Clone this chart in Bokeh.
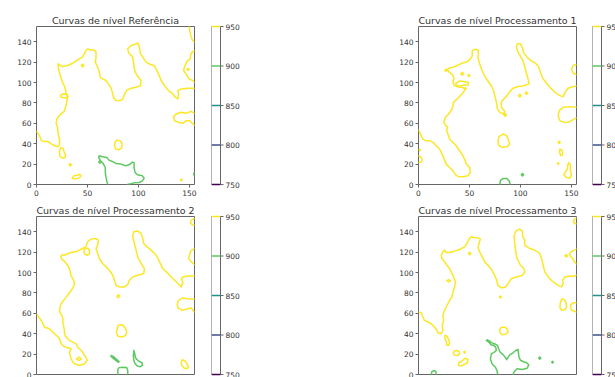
from bokeh.plotting import figure
from bokeh.layouts import row, column
from bokeh.models import Range1d, FixedTicker, ColumnDataSource
from bokeh.core.properties import value
from bokeh.embed import file_html
from bokeh.resources import INLINE

# ---------------- data ----------------
LEVELS = [750, 800, 850, 900, 950]
LEVEL_LABELS = ["750", "800", "850", "900", "950"]
LEVEL_COLORS = ["#440154", "#3b528b", "#21918c", "#5ec962", "#fde725"]
X_TICKS = [0, 50, 100, 150]
Y_TICKS = [0, 20, 40, 60, 80, 100, 120, 140]
X_MAX = 155
Y_MAX = 155
TITLES = ["Curvas de nível Referência", "Curvas de nível Processamento 1",
          "Curvas de nível Processamento 2", "Curvas de nível Processamento 3"]

# --- Referência: contour 950 (open paths / closed loops) and 900
REF_950_PATHS = [
    [(0,52.1),(2.6,48.5),(4.9,43),(7.5,42.3),(10.8,42.3),(13.4,40.7),(15.7,39),(18,38),(20.7,37),(22.6,39),
     (22.6,44.6),(21.3,49.5),(20.7,56),(19.3,60),(20,64.3),(22.3,67.5),(24.6,69.8),(27.2,71.8),(28.9,77.4),
     (29.8,82.3),(30.5,85.6),(28.9,90.5),(27.9,95.4),(25.6,100.3),(23.9,105.2),(22.3,110.2),(21.3,115),
     (21.3,118.4),(23,117),(25.6,115.7),(30.5,116.7),(35.4,119),(38.7,121),(42,123.3),(45.2,125),(46.9,128.2),
     (48.5,131.5),(50.2,133),(53.4,132),(56.7,132),(58.4,129.8),(58.4,125),(57.7,120),(60,115),(61.6,110.2),
     (62.6,105.2),(64.9,103.6),(68.2,102),(70.5,98.7),(73.1,94.8),(74.8,88.9),(75.7,84.9),(78,82.3),(82.3,82.3),
     (84.6,83.9),(86.2,88.2),(88.9,92.8),(92.8,94.4),(97.7,95.4),(102,97),(102.6,102),(100,105.2),(97.7,108.5),
     (96,113.4),(95.4,118.4),(94.4,125),(92.1,127.2),(90.5,128.9),(89.5,133.1),(92.8,136.4),(96,137.4),
     (99.3,138.7),(101,134.8),(102,128.2),(104.3,124.9),(107.5,120),(111.8,117.7),(115.1,116.7),(117.4,113.4),
     (119.7,108.5),(122.3,102),(125.6,97),(129.5,92.1),(133.8,88.9),(136.1,85.6),(138.7,83.9),(139.3,88.9),
     (138.7,92.1),(142,93.8),(148.5,94.4),(155,94.4)],
    [(149.8,155),(150.5,150),(151.4,146),(153,141.5),(155,140)],
    [(155,131),(153.5,130.8),(151.5,128.2),(150.8,123.3),(148.2,121.6),(145.6,116.7),(144.3,111.8),
     (146.6,108.5),(149.8,103.6),(153.1,102),(155,100.3)],
    [(155,69.8),(151.8,71.8),(146.9,69.8),(142,70.8),(137,69.2),(134.4,66.6),(135.4,62.6),(139.3,61),
     (143.6,60),(146.9,62.6),(150.2,62.6),(152.5,60.3),(155,58.4)],
]
REF_950_LOOPS = [
    [(44,116.7),(45.2,118),(46.4,116.7),(45.2,115.4)],
    [(23.5,87.5),(26,88.8),(30,88.5),(31,86.5),(29,85),(25,85.3),(23.5,86.5)],
    [(78.5,43.3),(82,43),(84,40),(83.5,36),(80.5,34),(77.5,35),(76.5,38.5),(77,41.5)],
    [(23.5,36),(26,35.5),(27,32),(28.5,29),(28,26.5),(25,26),(23,28),(22.5,32)],
    [(32,19.3),(33.1,20.5),(34.2,19.3),(33.1,18.1)],
    [(35,6),(36.5,8.5),(40,9),(42.5,10),(43.5,8.5),(42,6.5),(38,5.5)],
    [(141.2,4.6),(142,5.4),(142.8,4.6),(142,3.8)],
    [(147.8,112.8),(148.8,113.8),(149.8,112.8),(148.8,111.8)],
]
REF_900_PATHS = [
    [(70,0),(69,3),(68.2,6.9),(67.5,11.8),(67.5,16.7),(65.5,20.5),(63,23),(61,26.6),(61.6,28.2),(64.6,27.2),
     (68.9,26.6),(71.1,23.9),(74.4,22.6),(77.7,20.7),(82.6,20),(87.5,18.4),(90.8,19.3),(94.1,22),(95.7,21.3),
     (95.7,16.7),(96.7,11.8),(99,9.5),(103.9,8.5),(105.6,6.2),(103.9,3.6),(100.7,2),(95.7,1.6),(92.5,0.7),(89.2,0)],
    [(155,12),(154.2,10),(155,8)],
]
REF_900_LOOPS = [
    [(61,22),(62.2,23.2),(63.4,22),(62.2,20.8)],
]

# --- Processamento 1
P1_950_PATHS = [
    [(0,53.4),(2.6,47.9),(4.3,44.6),(6.9,43),(10.8,43),(14.1,41.3),(17.4,38),(20.7,34.8),(22.3,31.5),
     (24.6,26.6),(27.2,20),(30.5,16.7),(33.8,13.4),(36.4,9.5),(38.7,7.9),(43.6,7.5),(48.5,8.5),(50.8,11.8),
     (50.2,16.7),(46.9,20),(45.2,24.9),(43.6,28.2),(40.3,33.1),(37,38),(33.8,41.3),(30.5,44.6),(28.9,49.5),
     (27.5,53),(28.6,56.2),(26.5,58),(24.8,61.1),(26.5,66),(29.7,69.4),(33.1,74.3),(34.6,80.8),(38,84.1),
     (42.9,89),(46.1,93.5),(43,95.2),(38.5,95.8),(35,97),(33.8,100.5),(34.8,104),(33.5,107.5),(30,110.5),
     (27.8,112.8),(30.5,114.2),(34.6,115.3),(41.2,118.4),(47.8,120.5),(51,123.5),(52.7,126),(52.8,131.5),
     (56.1,132.8),(58.7,131.5),(58.7,127.5),(58.4,124.3),(60,118.4),(62.3,111.8),(65.6,105.2),
     (68.9,100.3),(71.8,96.1),(73.8,91.5),(75.1,86.2),(76.4,80.7),(77.4,74.1),(79.7,70.8),(83.6,69.2),
     (84.6,71.8),(81.3,75.7),(81.3,80.7),(83.6,83.9),(86.9,87.2),(89.5,91.1),(92.8,94.4),(97.7,96.1),
     (102.6,96.7),(108.5,98.7),(107.5,103.6),(105.9,109.2),(104.3,115.1),(102.6,121),(100,125.6),(97.7,129.8),
     (96,134.8),(97.1,138),(100,138),(102,134.1),(103.3,128.9),(106.6,124.9),(110.8,121),(114.8,119),
     (117.7,115.7),(119.7,110.2),(121.6,104.6),(125.6,99.3),(129.5,94.8),(133.8,90.5),(138.7,87.2),(142,86.2),
     (143.6,90.5),(146.9,94.4),(151.8,96.1),(155,96.7)],
    [(155,117.7),(151.8,116.7),(150.2,113.4),(151.8,109.2),(155,107.9)],
    [(155,75.7),(148.5,76.4),(142,75.7),(138,72.5),(137,67.5),(138.7,62.6),(143.6,60.7),(148.5,61.6),
     (152,63.9),(155,65.2)],
    [(0,28),(2.5,27),(3.6,24),(2.8,22),(0,21.5)],
]
P1_950_LOOPS = [
    [(41.5,108.6),(42.9,110),(44.3,108.6),(42.9,107.2)],
    [(48.5,107),(49.5,108),(50.5,107),(49.5,106)],
    [(36.5,99),(40,101.5),(44,101),(49,100),(48.5,97.5),(44,97.5),(40,96.5),(37,97.5)],
    [(45.2,94.2),(46,95),(46.8,94.2),(46,93.4)],
    [(25.8,111.9),(26.6,112.7),(27.4,111.9),(26.6,111.1)],
    [(98,87.2),(99.3,88.5),(100.6,87.2),(99.3,85.9)],
    [(104.6,89.5),(105.9,90.8),(107.2,89.5),(105.9,88.2)],
    [(83.8,68.3),(85,69.6),(86.2,68.3),(85,67)],
    [(79,47),(83,49.5),(86.5,48),(88,44),(89.5,40),(87,37),(82,36.5),(78.5,38.5),(78,43)],
    [(0.3,33.8),(1.1,34.6),(1.9,33.8),(1.1,33)],
    [(137,41.3),(138,42.3),(139,41.3),(138,40.3)],
    [(138.5,34.5),(140.5,34),(141.5,31),(141,28.5),(139.5,28.5),(138.5,31)],
    [(136.3,20.7),(137,21.4),(137.7,20.7),(137,20)],
    [(147.5,21.6),(149,19),(149,14),(150,9),(148.5,6.2),(145,7),(142.5,9.5),(144,12),(146,15),(146.5,19)],
]
P1_900_PATHS = [
    [(79.7,0),(80.5,4),(83,6),(86.5,6),(89,3.5),(90,0)],
]
P1_900_LOOPS = [
    [(100.8,9.5),(102,10.7),(103.2,9.5),(102,8.3)],
]

# --- Processamento 2
P2_950_PATHS = [
    [(0,59.5),(2.5,56),(4.6,53),(6.5,49.5),(7.9,46.4),(12.8,44.8),(15.5,42),(17.7,39.9),(20.5,37.5),
     (22.6,35),(24.2,30.1),(26.5,28),(29.1,26.8),(34,25.2),(32.4,21.9),(33,18.5),(34,15.4),(35.5,12.5),
     (37.3,10.5),(42.2,8.8),(47.1,10.5),(49.7,13.7),(48.8,16.5),(47.1,18.6),(45.5,21.5),(43.9,23.6),
     (40.5,26.8),(39.9,28),(39,30.1),(35.6,31.7),(32.5,33.2),(30.7,35),(28.5,37.5),(27.5,39.9),(27.3,43.5),
     (26.8,46.4),(25.8,51.3),(26,54.5),(24.9,57.9),(23.2,60.5),(22.6,62.8),(23,66),(24.2,69.4),(26.5,72.5),
     (29.1,75.9),(31.5,79),(34,82.4),(36,85.5),(37.3,89),(36.6,92.2),(35,95),(33.5,98),(33.1,101),
     (32,104.5),(30,108),(27.5,111),(25,113),(23.9,115.4),(25,117.5),(27.2,117),(33.8,119.7),(40.3,121),
     (45.2,123.6),(48.5,125.2),(50.2,130.2),(53.4,132.8),(58.4,133.4),(60.7,131.8),(60,126.9),(58.4,123.6),
     (60,118.7),(61.6,113.8),(64.9,108.9),(68.2,105.6),(71.5,102.3),(74.8,97.4),(77,90.8),(78,87.5),
     (81.3,85.9),(86.2,85.9),(89.5,88.2),(91.1,92.5),(94.4,95.7),(99.3,97.4),(105.2,99),(105.9,103.9),
     (102.6,108.9),(99.3,115.4),(97.7,122),(96,128.5),(94.4,135.1),(95.4,140),(99.3,140.7),(102.6,138.4),
     (104.3,133.4),(105.2,128.5),(108.5,125.2),(112.5,122),(117.4,117),(120.7,110.5),(123.9,103.9),
     (128.9,99),(133.8,94.1),(138.7,89.2),(142,85.9),(143.6,90.8),(142,93.4),(143.6,95.7),(148.5,96.7),
     (155,96.7)],
    [(155,153),(152,151.5),(151,149),(152.5,147),(155,146.5)],
    [(155,123.6),(151.1,121),(150.2,117),(149.2,113.8),(151.8,110.5),(155,107.9)],
    [(155,73.8),(148.5,74.4),(143.6,75.1),(139.3,72.8),(138,68.5),(139.3,64.6),(143.6,63),(148.5,64.6),
     (151.8,65.2),(155,61.3)],
]
P2_950_LOOPS = [
    [(47,123),(50,124),(52,122),(52,118.5),(50,117),(47.5,118),(46.5,120.5)],
    [(78.9,76.7),(80.3,78.1),(81.7,76.7),(80.3,75.3)],
    [(80,48),(84,48.9),(87,46),(88.5,42),(87.5,38.5),(84,36.7),(80,37.5),(78.5,41),(79,45)],
    [(143,14.4),(145.5,13.5),(147.5,10.5),(149.2,7.5),(147.5,5.6),(144.5,6.5),(142.5,9),(142,12)],
    [(39.2,15.3),(41.5,17),(43.9,15.3),(41.5,13.7)],
]
P2_900_PATHS = [
    [(80,0),(79.7,4),(80.5,6.5),(84,7),(88.5,6.8),(89.5,4),(89.5,0)],
]
P2_900_LOOPS = [
    [(73.2,18.7),(75.5,17.5),(78.5,15),(81,12.6),(80.3,12),(77.5,14),(74.5,16.5),(73,18)],
    [(95.5,23.5),(96.5,20),(97,17),(98,15),(100.5,13),(103.5,11.5),(104,9),(101.5,7.5),(98.5,8.5),
     (96.5,11),(95.5,14),(95,18)],
]

# --- Processamento 3
P3_950_PATHS = [
    [(0,61.3),(2.6,60.7),(4.3,56.4),(5.9,53.1),(9.2,51.5),(12.5,49.8),(15.7,46.6),(18,43.3),(19,41),(22.3,40),
     (23.9,43.3),(23.3,48.2),(24.6,53.1),(23.9,58),(25.6,63),(27.2,66.2),(28.9,69.5),(30.5,72.8),(32.8,76),
     (33.8,81),(35.4,85.9),(36.4,90.8),(34.4,95.7),(32.1,100.7),(30.5,103.9),(27.9,107.2),(25.6,110.5),
     (23,113.8),(22.3,117),(23.9,120.3),(25.6,122),(27.2,119.7),(30.5,119.7),(35.4,121),(40.3,122.6),
     (45.2,125.2),(47.5,128.5),(49.5,132.8),(51.8,135.1),(55.1,134.1),(58.4,134.1),(60.7,132.8),(59.3,128.5),
     (58.4,124.3),(60,120.3),(62.6,115.4),(64.9,110.5),(68.2,107.2),(71.5,103.3),(73.8,99),(76.4,93.4),
     (78,87.5),(81.3,84.9),(85.6,85.9),(88.9,90.8),(91.1,94.1),(96,95.7),(102,97.4),(104.3,100.7),
     (103.3,103.9),(100,107.2),(96.7,113.8),(95.4,120.3),(94.4,128.5),(93.8,136),(95.4,140.7),(99.3,142.6),
     (102,140.7),(102,136),(104.3,131.8),(104.3,126.9),(109.2,123.6),(114.1,122),(119,118.7),(120.7,113.8),
     (122.3,107.2),(123.9,100.7),(127.2,95.7),(132.1,90.8),(137,87.5),(140.3,85.9),(142,89.2),(141.3,92.5),
     (143.6,95.7),(148.5,96.7),(151.8,96.4),(155,97.4)],
    [(155,153.5),(152.5,152),(152,149.5),(153.5,148),(155,148)],
    [(155,123),(151.8,121.5),(149.5,120),(148.2,118.5),(149.5,115.5),(151.5,113.5),(153,110.5),(155,108.5)],
    [(155,70.5),(152,70.5),(149.5,68.5),(149.2,65.5),(150.5,63),(153,62),(155,61.3)],
]
P3_950_LOOPS = [
    [(49,118.7),(50.2,119.9),(51.4,118.7),(50.2,117.5)],
    [(27.8,92),(29.5,93.2),(31.2,92),(29.5,90.8)],
    [(79.4,76),(80.3,76.9),(81.2,76),(80.3,75.1)],
    [(81,46),(84.5,46.6),(87,44.5),(87.9,41.5),(85.5,39.5),(82,39),(80,41),(79.7,44)],
    [(26,38.5),(28,37.5),(29.5,34.5),(30.5,31),(29.5,28.5),(27.5,29),(27.5,32),(26,35)],
    [(34,21),(35,23),(37.5,23.6),(40,22.5),(40.3,20.5),(38.5,18.7),(35.5,19)],
    [(44.4,22),(45.2,22.8),(46,22),(45.2,21.2)],
    [(46,16),(48.5,14.5),(48,11.5),(45,10),(41.5,8.2),(39,9),(39.5,11.5),(42.5,13),(44.5,15)],
    [(143.7,116.5),(145,117.8),(146.3,116.5),(145,115.2)],
    [(141,74.4),(143.5,73),(145,69.5),(145.2,66),(143.5,63.5),(140.5,63),(138.7,65.5),(139,69.5),(139.8,72.5)],
]
P3_900_PATHS = [
    [(77.7,0),(77,3.9),(75.4,7.2),(72.1,10.5),(70.5,15.4),(71.5,20.3),(74.4,22),(76.4,23.6),(75.7,26.9),
     (73.8,28.5),(71.1,29.2),(68.9,31.8),(66.6,33.4),(67.5,34),(69.5,33),(72,31),(75,30),(77.5,28.5),
     (78.7,25),(80,22),(83,19.5),(85.5,16.5),(86.5,14.5),(88,17),(89.5,19.3),(92.8,21.3),(95.4,23.6),
     (97.7,24.6),(98,21.5),(98.5,17.5),(100,14),(103,12.5),(106,11.5),(108.2,9.5),(106.6,6.2),(101.6,4.9),
     (96.7,5.6),(94,3),(92.8,0)],
    [(12.5,0),(13,2.5),(15,3.9),(17,3),(17.4,0)],
]
P3_900_LOOPS = [
    [(118,16.1),(119,17.1),(120,16.1),(119,15.1)],
    [(130.7,12.1),(131.5,12.9),(132.3,12.1),(131.5,11.3)],
]

# ---------------- styling / layout ----------------
FONT = "DejaVu Sans"
TEXT_COLOR = "#333333"
AXIS_COLOR = "#666666"
PANEL_PX = 158
CB_W = 9
LINE_W = 1.5


def to_xy(paths, loops):
    xs, ys = [], []
    for pth in paths:
        xs.append([pt[0] for pt in pth])
        ys.append([pt[1] for pt in pth])
    for lp in loops:
        closed = list(lp) + [lp[0]]
        xs.append([pt[0] for pt in closed])
        ys.append([pt[1] for pt in closed])
    return xs, ys


def make_panel(title, p950, l950, p900, l900, border_left, border_top, bottom_axis, border_bottom):
    p = figure(title=title, frame_width=PANEL_PX, frame_height=PANEL_PX,
               x_range=Range1d(0, X_MAX), y_range=Range1d(0, Y_MAX),
               min_border_left=border_left, min_border_right=8, min_border_top=border_top,
               min_border_bottom=border_bottom, toolbar_location=None, output_backend="svg",
               x_axis_location="below" if bottom_axis else None, frame_align=False)
    p.grid.visible = False
    p.outline_line_color = AXIS_COLOR
    p.outline_line_width = 1
    p.background_fill_color = "white"
    p.border_fill_color = "white"
    p.title.text_font = FONT
    p.title.text_font_size = "9.5px"
    p.title.text_font_style = "normal"
    p.title.text_color = TEXT_COLOR
    p.title.align = "center"
    p.title.standoff = 2
    axes = list(p.yaxis) + (list(p.xaxis) if bottom_axis else [])
    for ax in axes:
        ax.axis_line_color = None
        ax.major_tick_line_color = AXIS_COLOR
        ax.major_tick_out = 3
        ax.major_tick_in = 0
        ax.minor_tick_line_color = None
        ax.major_label_text_font = FONT
        ax.major_label_text_font_size = "7.5px"
        ax.major_label_text_color = TEXT_COLOR
        ax.major_label_standoff = 2
    p.yaxis.ticker = FixedTicker(ticks=Y_TICKS)
    if bottom_axis:
        p.xaxis.ticker = FixedTicker(ticks=X_TICKS)
    for paths, loops, color in ((p900, l900, LEVEL_COLORS[3]), (p950, l950, LEVEL_COLORS[4])):
        xs, ys = to_xy(paths, loops)
        p.multi_line(xs=xs, ys=ys, line_color=color, line_width=LINE_W,
                     line_join="round", line_cap="round")
    return p


def make_colorbar(frame_w, pad_top, pad_bottom, border_top, border_left):
    upp = (LEVELS[-1] - LEVELS[0]) / PANEL_PX
    cb = figure(frame_width=frame_w, frame_height=PANEL_PX + pad_top + pad_bottom,
                x_range=Range1d(0, frame_w / CB_W),
                y_range=Range1d(LEVELS[0] - pad_bottom * upp, LEVELS[-1] + pad_top * upp),
                min_border_left=border_left, min_border_right=0, min_border_top=border_top,
                min_border_bottom=0, toolbar_location=None, output_backend="svg",
                x_axis_location=None, y_axis_location=None, title_location=None,
                frame_align=False)
    cb.grid.visible = False
    cb.outline_line_color = None
    cb.background_fill_color = "white"
    cb.border_fill_color = "white"
    src = ColumnDataSource(dict(level=LEVELS, label=LEVEL_LABELS, color=LEVEL_COLORS))
    cb.quad(left=0, right=1, bottom=LEVELS[0], top=LEVELS[-1], fill_color="white",
            line_color=AXIS_COLOR, line_width=1)
    cb.segment(x0=0, x1=1, y0="level", y1="level", line_color="color", line_width=1.5, source=src)
    cb.segment(x0=1, x1=1 + 3 / CB_W, y0="level", y1="level", line_color=AXIS_COLOR,
               line_width=1, source=src)
    cb.text(x=1 + 5 / CB_W, y="level", text="label", source=src, text_font=value(FONT),
            text_font_size="7.5px", text_color=TEXT_COLOR, text_baseline="middle",
            text_align="left")
    return cb


# row 1: 198 px tall; row 2: 179 px tall (bottom row cut at the window edge, as in the reference)
f1 = make_panel(TITLES[0], REF_950_PATHS, REF_950_LOOPS, REF_900_PATHS, REF_900_LOOPS, 36, 26, True, 14)
c1 = make_colorbar(40, 8, 14, 18, 9)
f2 = make_panel(TITLES[1], P1_950_PATHS, P1_950_LOOPS, P1_900_PATHS, P1_900_LOOPS, 167, 26, True, 14)
c2 = make_colorbar(23, 8, 14, 18, 8)
f3 = make_panel(TITLES[2], P2_950_PATHS, P2_950_LOOPS, P2_900_PATHS, P2_900_LOOPS, 36, 18, False, 3)
c3 = make_colorbar(40, 8, 3, 10, 9)
f4 = make_panel(TITLES[3], P3_950_PATHS, P3_950_LOOPS, P3_900_PATHS, P3_900_LOOPS, 167, 18, False, 3)
c4 = make_colorbar(23, 8, 3, 10, 8)

layout = column(row(f1, c1, f2, c2, spacing=0), row(f3, c3, f4, c4, spacing=0), spacing=0)

open("out.html", "w").write(file_html(layout, INLINE))
